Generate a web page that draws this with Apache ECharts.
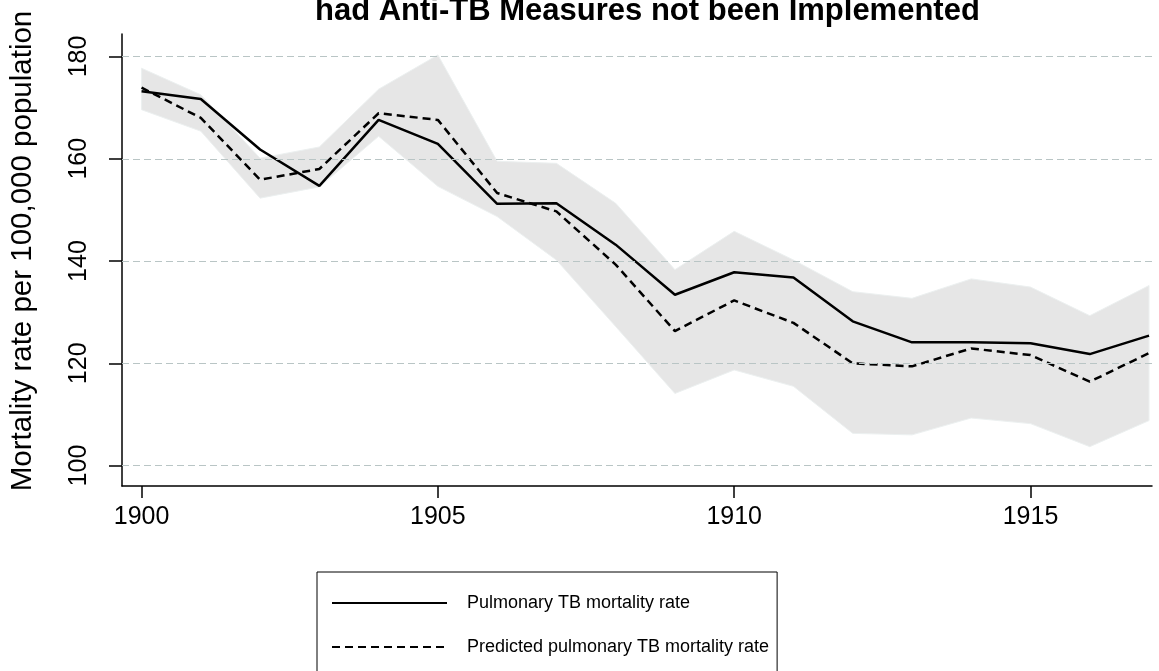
<!DOCTYPE html>
<html>
<head>
<meta charset="utf-8">
<script src="https://cdn.jsdelivr.net/npm/echarts@6/dist/echarts.min.js"></script>
<style>
  html, body { margin: 0; padding: 0; background: #fff; }
  #main { width: 1159px; height: 671px; }
</style>
</head>
<body>
<div id="main"></div>
<script>
// years on the x axis
var years = [1900, 1901, 1902, 1903, 1904, 1905, 1906, 1907, 1908, 1909,
             1910, 1911, 1912, 1913, 1914, 1915, 1916, 1917];

// observed pulmonary TB mortality rate
var actualRate = [173.2, 171.7, 161.8, 154.7, 167.6, 162.9, 151.2, 151.3, 143.2,
                  133.4, 137.8, 136.8, 128.2, 124.1, 124.1, 123.9, 121.8, 125.4];

// predicted (no anti-TB measures)
var predictedRate = [173.9, 168.0, 155.9, 158.0, 168.9, 167.6, 153.3, 149.7, 139.3,
                     126.3, 132.3, 127.9, 120.0, 119.4, 122.9, 121.6, 116.4, 122.0];

// confidence band of the prediction
var ciLower = [169.6, 165.4, 152.3, 154.5, 164.4, 154.6, 148.7, 140.2, 127.2,
               114.1, 118.7, 115.5, 106.3, 106.0, 109.3, 108.2, 103.7, 108.8];
var ciUpper = [177.7, 172.5, 160.1, 162.3, 173.6, 180.3, 159.5, 159.1, 151.3,
               138.3, 145.8, 140.2, 134.0, 132.7, 136.5, 134.9, 129.3, 135.2];

// tick labels
var xTicks = [1900, 1905, 1910, 1915];
var yTicks = [100, 120, 140, 160, 180];

var titleText = 'had Anti-TB Measures not been Implemented';
var yTitle = 'Mortality rate per 100,000 population';
var nameActual = 'Pulmonary TB mortality rate';
var namePredicted = 'Predicted pulmonary TB mortality rate';

// pair years with values
function pairs(values) {
    var d = [];
    for (var i = 0; i < years.length; i++) {
        d.push([years[i], values[i]]);
    }
    return d;
}

// band polygon: upper edge left->right, lower edge right->left
function renderBand(params, api) {
    if (params.dataIndex !== 0) {
        return;
    }
    var pts = [];
    for (var i = 0; i < years.length; i++) {
        pts.push(api.coord([years[i], ciUpper[i]]));
    }
    for (var j = years.length - 1; j >= 0; j--) {
        pts.push(api.coord([years[j], ciLower[j]]));
    }
    return {
        type: 'polygon',
        shape: { points: pts },
        style: { fill: '#e6e6e6', stroke: '#ecf0f0', lineWidth: 1 }
    };
}

var font = 'Liberation Sans, Arial, sans-serif';

var myChart = echarts.init(document.getElementById('main'));
var option = {
    backgroundColor: '#ffffff',
    animation: false,
    title: {
        text: titleText,
        left: 310,
        top: -9,
        textStyle: { fontFamily: font, fontSize: 31, fontWeight: 'bold', color: '#000' }
    },
    grid: { left: 122, right: 7, top: 34, bottom: 185, containLabel: false, outerBoundsMode: 'none' },
    legend: {
        data: [nameActual, namePredicted],
        orient: 'vertical',
        left: 317,
        top: 572,
        height: 200,
        padding: [22, 8, 40, 14],
        itemWidth: 115,
        itemHeight: 14,
        itemGap: 26,
        borderColor: '#000',
        borderWidth: 1,
        backgroundColor: '#fff',
        itemStyle: { opacity: 0 },
        textStyle: { fontFamily: font, fontSize: 18, color: '#000', padding: [0, 0, 0, 15] }
    },
    xAxis: {
        type: 'value',
        min: 1899.67,
        max: 1917.05,
        axisLine: { show: true, lineStyle: { color: '#000', width: 1.5 } },
        axisTick: { show: true, customValues: xTicks, length: 12, lineStyle: { color: '#000', width: 1.5 } },
        axisLabel: {
            customValues: xTicks, margin: 19, fontFamily: font, fontSize: 25, color: '#000',
            formatter: function (v) { return String(v); }
        },
        splitLine: { show: false }
    },
    yAxis: {
        type: 'value',
        min: 96,
        max: 184.4,
        name: yTitle,
        nameLocation: 'middle',
        nameRotate: 90,
        nameGap: 84,
        nameTextStyle: { fontFamily: font, fontSize: 29.5, color: '#000', padding: [0, 0, 0, 18] },
        axisLine: { show: true, lineStyle: { color: '#000', width: 1.5 } },
        axisTick: { show: true, customValues: yTicks, length: 13, lineStyle: { color: '#000', width: 1.5 } },
        axisLabel: {
            customValues: yTicks, rotate: 90, margin: 30, fontFamily: font, fontSize: 25, color: '#000',
            formatter: function (v) { return String(v); }
        },
        splitLine: { show: false }
    },
    series: [
        {
            name: 'grid',
            type: 'line',
            data: pairs(ciLower),
            symbol: 'none',
            silent: true,
            z: 1,
            lineStyle: { width: 0, opacity: 0 },
            markLine: {
                silent: true,
                symbol: 'none',
                label: { show: false },
                lineStyle: { color: '#b9c5c5', type: [7, 4], width: 1.2 },
                data: yTicks.map(function (v) { return { yAxis: v }; })
            }
        },
        {
            name: 'ciBand',
            type: 'custom',
            renderItem: renderBand,
            data: pairs(ciUpper),
            encode: { x: 0, y: 1 },
            silent: true,
            z: 2
        },
        {
            name: nameActual,
            type: 'line',
            data: pairs(actualRate),
            symbol: 'none',
            z: 3,
            itemStyle: { color: '#000' },
            lineStyle: { color: '#000', width: 2.5 }
        },
        {
            name: namePredicted,
            type: 'line',
            data: pairs(predictedRate),
            symbol: 'none',
            z: 3,
            itemStyle: { color: '#000' },
            lineStyle: { color: '#000', width: 2.5, type: [8, 5] }
        }
    ]
};

myChart.setOption(option);
</script>
</body>
</html>
